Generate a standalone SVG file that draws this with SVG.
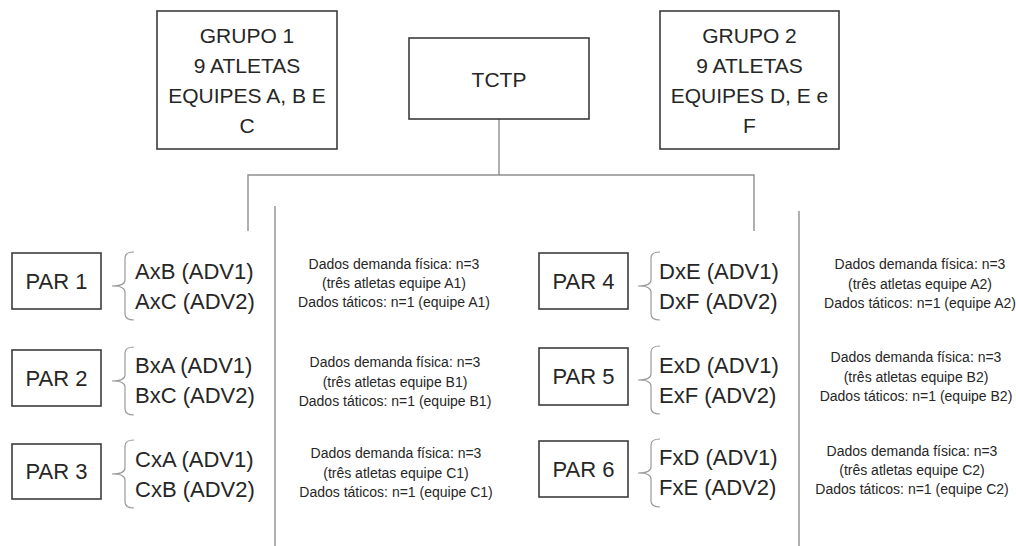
<svg xmlns="http://www.w3.org/2000/svg" width="1016" height="546" viewBox="0 0 1016 546">
  <style>
    .box { fill: #ffffff; stroke: #3c3c3c; stroke-width: 1.6; }
    .link { fill: none; stroke: #8e8e8e; stroke-width: 1.4; }
    .brace { fill: none; stroke: #9a9a9a; stroke-width: 1.2; }
    .big { font-family: "Liberation Sans", Arial, sans-serif; font-size: 21px; fill: #262626; text-anchor: middle; }
    .par { font-family: "Liberation Sans", Arial, sans-serif; font-size: 22px; fill: #262626; text-anchor: middle; }
    .match { font-family: "Liberation Sans", Arial, sans-serif; font-size: 22px; fill: #262626; }
    .small { font-family: "Liberation Sans", Arial, sans-serif; font-size: 14px; fill: #262626; text-anchor: middle; }
  </style>
  <defs>
    <!-- curly brace, 68 px tall, tick pointing left at local (0,34) -->
    <path id="curly" d="M22,0 Q13,0 13,6 L13,28 Q13,34 0,34 Q13,34 13,40 L13,62 Q13,68 22,68"/>
  </defs>
  <rect width="1016" height="546" fill="#ffffff"/>

  <!-- connectors and column separators -->
  <g id="connectors">
    <path class="link" d="M499,119 V175"/>
    <path class="link" d="M248,231 V175 H754 V231"/>
    <path class="link" d="M275,206 V546"/>
    <path class="link" d="M799,211 V546"/>
  </g>

  <g id="grupo1">
    <rect class="box" x="157" y="11" width="180" height="138"/>
    <text class="big" x="247" y="43">GRUPO 1</text>
    <text class="big" x="247" y="73">9 ATLETAS</text>
    <text class="big" x="247" y="103">EQUIPES A, B E</text>
    <text class="big" x="247" y="133">C</text>
  </g>

  <g id="tctp">
    <rect class="box" x="409" y="38" width="180" height="81"/>
    <text class="big" x="499" y="87">TCTP</text>
  </g>

  <g id="grupo2">
    <rect class="box" x="660" y="11" width="179" height="138"/>
    <text class="big" x="749.5" y="43">GRUPO 2</text>
    <text class="big" x="749.5" y="73">9 ATLETAS</text>
    <text class="big" x="749.5" y="103">EQUIPES D, E e</text>
    <text class="big" x="749.5" y="133">F</text>
  </g>

  <!-- pairs of group 1 -->
  <g id="par1">
    <rect class="box" x="12" y="253" width="89" height="56"/>
    <text class="par" x="56.5" y="289">PAR 1</text>
    <use href="#curly" class="brace" x="112" y="252"/>
    <text class="match" x="135" y="279">AxB (ADV1)</text>
    <text class="match" x="135" y="309">AxC (ADV2)</text>
  </g>
  <g id="par2">
    <rect class="box" x="12" y="350" width="89" height="56"/>
    <text class="par" x="56.5" y="386">PAR 2</text>
    <use href="#curly" class="brace" x="112" y="347"/>
    <text class="match" x="135" y="373">BxA (ADV1)</text>
    <text class="match" x="135" y="403">BxC (ADV2)</text>
  </g>
  <g id="par3">
    <rect class="box" x="12" y="444" width="89" height="55"/>
    <text class="par" x="56.5" y="479">PAR 3</text>
    <use href="#curly" class="brace" x="112" y="440"/>
    <text class="match" x="135" y="467">CxA (ADV1)</text>
    <text class="match" x="135" y="497">CxB (ADV2)</text>
  </g>

  <!-- pairs of group 2 -->
  <g id="par4">
    <rect class="box" x="539" y="253" width="89" height="56"/>
    <text class="par" x="583.5" y="289">PAR 4</text>
    <use href="#curly" class="brace" x="638" y="252"/>
    <text class="match" x="659" y="279">DxE (ADV1)</text>
    <text class="match" x="659" y="309">DxF (ADV2)</text>
  </g>
  <g id="par5">
    <rect class="box" x="539" y="348" width="89" height="57"/>
    <text class="par" x="583.5" y="384">PAR 5</text>
    <use href="#curly" class="brace" x="638" y="346"/>
    <text class="match" x="659" y="373">ExD (ADV1)</text>
    <text class="match" x="659" y="403">ExF (ADV2)</text>
  </g>
  <g id="par6">
    <rect class="box" x="539" y="441" width="89" height="56"/>
    <text class="par" x="583.5" y="477">PAR 6</text>
    <use href="#curly" class="brace" x="638" y="439"/>
    <text class="match" x="659" y="465">FxD (ADV1)</text>
    <text class="match" x="659" y="495">FxE (ADV2)</text>
  </g>

  <!-- data notes, group 1 -->
  <g id="dados-a1">
    <text class="small" x="394" y="269">Dados demanda física: n=3</text>
    <text class="small" x="394" y="288">(três atletas equipe A1)</text>
    <text class="small" x="394" y="307">Dados táticos: n=1 (equipe A1)</text>
  </g>
  <g id="dados-b1">
    <text class="small" x="395" y="367">Dados demanda física: n=3</text>
    <text class="small" x="395" y="387">(três atletas equipe B1)</text>
    <text class="small" x="395" y="406">Dados táticos: n=1 (equipe B1)</text>
  </g>
  <g id="dados-c1">
    <text class="small" x="396" y="458">Dados demanda física: n=3</text>
    <text class="small" x="396" y="478">(três atletas equipe C1)</text>
    <text class="small" x="396" y="497">Dados táticos: n=1 (equipe C1)</text>
  </g>

  <!-- data notes, group 2 -->
  <g id="dados-a2">
    <text class="small" x="920" y="269">Dados demanda física: n=3</text>
    <text class="small" x="920" y="289">(três atletas equipe A2)</text>
    <text class="small" x="920" y="308">Dados táticos: n=1 (equipe A2)</text>
  </g>
  <g id="dados-b2">
    <text class="small" x="916" y="362">Dados demanda física: n=3</text>
    <text class="small" x="916" y="382">(três atletas equipe B2)</text>
    <text class="small" x="916" y="401">Dados táticos: n=1 (equipe B2)</text>
  </g>
  <g id="dados-c2">
    <text class="small" x="912" y="456">Dados demanda física: n=3</text>
    <text class="small" x="912" y="475">(três atletas equipe C2)</text>
    <text class="small" x="912" y="494">Dados táticos: n=1 (equipe C2)</text>
  </g>
</svg>
